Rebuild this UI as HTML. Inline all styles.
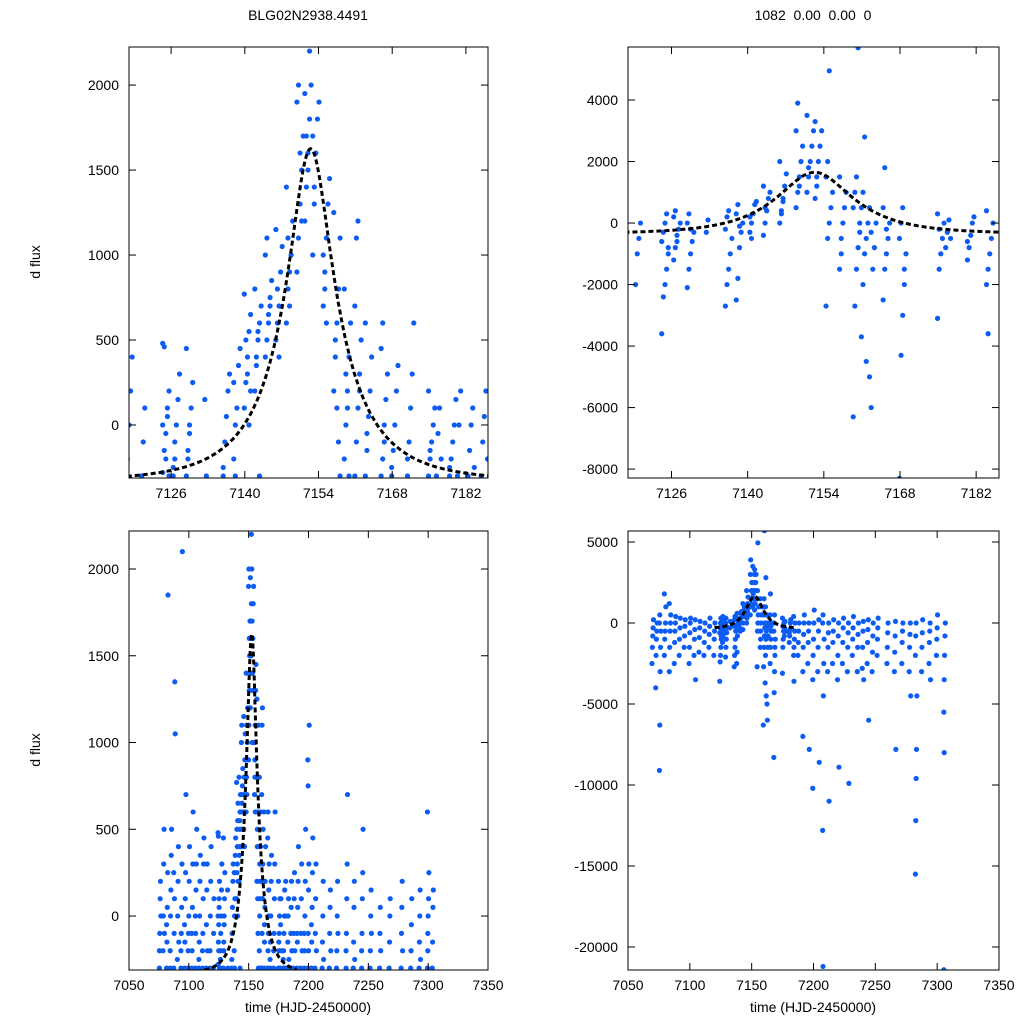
<!DOCTYPE html>
<html><head><meta charset="utf-8"><style>
body{margin:0;background:#fff}
svg{font-family:"Liberation Sans",sans-serif}
</style></head><body>
<svg id="c" width="1024" height="1024" viewBox="0 0 1024 1024">
<text x="308" y="20" font-size="14" text-anchor="middle">BLG02N2938.4491</text>
<text x="813" y="20" font-size="14" text-anchor="middle" xml:space="preserve">1082  0.00  0.00  0</text>
<text transform="translate(40,262) rotate(-90)" font-size="14" text-anchor="middle">d flux</text>
<text transform="translate(40,750) rotate(-90)" font-size="14" text-anchor="middle">d flux</text>
<text x="308" y="1012" font-size="14" text-anchor="middle">time (HJD-2450000)</text>
<text x="813" y="1012" font-size="14" text-anchor="middle">time (HJD-2450000)</text>
</svg>
<script>
// ---- data: left dataset (d flux), nights: time + values
const nightTA=[7076,7079,7082,7085,7088,7091,7094,7097,7100,7103,7106,7109,7112,7115,7118,7121,7125,7127,7129.5,7133,7136.5,7138.5,7140.5,7142.5,7144.5,7146.5,7148.5,7150.5,7152,7153.5,7155.5,7157.5,7159.5,7161.5,7163.5,7166.5,7168.5,7171.5,7175.5,7177,7179.5,7181,7183,7185.5,7188,7191,7194,7197,7200,7203,7206,7212,7218,7224,7232,7238,7245,7252,7260,7268,7278,7286,7293,7300,7304];
const nightA=[[-300,-100,100,200,0,-200],[-200,0,300,500,-100],[-300,-150,50,250,1850,-50],[-300,0,150,350,500,-200],[-300,-100,100,1350,1050,250],[-250,0,200,400,-150],[-300,-100,50,300,2100,-200],[-300,-150,100,250,700,-50],[-300,-100,0,200,400,-200],[-300,-200,50,300,600,-100],[-300,-100,150,300,500,0],[-300,-150,0,200,350,-250],[-300,-100,100,300,450,-200],[-300,-50,150,300,-200],[-300,-200,0,200,400],[-300,-100,100],
[-280,-150,-50,50,200,480,460,-200,100,-300,0],[-250,-100,0,150,300,-300,-200],[-300,-200,-50,100,250,450,-150,0],[150,-300],[-300,-100,50,200,300,-250],[-200,0,100,350,450,250,-300],[100,250,400,550,650,770,500,300,0,200],[200,400,500,600,700,800,350,550,-300],[400,500,650,700,850,1000,1100,600,750],[500,600,700,900,1050,1150,800,400],[600,800,900,1000,1200,1400,1100,700],[900,1100,1300,1500,1700,1900,2000,1600,1200],[1200,1400,1600,1800,2000,1950,1700,1500,2200],[1000,1300,1600,1800,1900,1700,1400],[700,900,1100,1300,1450,1000,800,600],[200,400,600,800,1100,1250,500,100,-100,-300],[-200,0,200,400,600,800,300,100,-300],[-300,-100,100,300,500,700,1100,1200,200],[-300,-150,50,200,400,600,-50],[-300,-200,0,150,300,450,600,-100],[-300,-150,0,200,350,-250],[-300,-100,100,300,600,-200],[-300,-200,-100,0,100,200,-150],[-300,-50,100,-200],[-300,-200,-100,0,150,-250],[-300,0,200],[-300,-150,0,100,-250],[-300,-100,50,200,-200],
[-300,-100,100,250,-200],[-300,-150,50,200,400,-100],[-300,-100,100,300,-200],[-300,-200,0,200,500,-100],[-300,-100,150,300,1100,900,750,-200],[-300,-150,50,250,450,-50],[-300,-100,100,300,-200],[-300,-150,0,200,-250],[-300,-100,50,150,-200],[-300,-200,0,200,-100],[-300,-100,100,300,700,-200],[-300,-150,50,200,-250],[-300,-100,100,250,500,-200],[-300,-200,0,150,-100],[-300,-100,50,-200],[-300,-150,0,100],[-300,-100,50,200,-200],[-300,-200,-50,100],[-300,-150,0,150,-250],[-300,-100,0,100,250,600,-200],[-300,-150,50,150]];
// ---- data: right dataset
const nightTB=[7070,7073,7076,7080,7084,7088,7092,7096,7100,7104,7108,7112,7116,7120,7124.8,7127,7129.5,7133,7136.5,7138.5,7141,7143.5,7146.5,7149.5,7151.5,7153,7155,7157.5,7160,7161.5,7163,7165.5,7168.5,7175.5,7177,7181,7184.5,7188,7192,7196,7200,7204,7208,7212,7216,7220,7224,7228,7232,7236,7240,7244,7248,7252,7260,7266,7272,7278,7283,7288,7294,7300,7306];
const nightB=[[-2500,-1500,-800,-300,200],[-4000,-2000,-1000,-500,0],[-9100,-6300,-3000,-1500,-500,0,500],[-2000,-1000,-500,0,1000,1800],[-3000,-1500,-500,0,500,1200],[-2500,-1200,-500,0,400],[-2000,-1000,-300,300],[-1500,-800,-200,200],[-2500,-1500,-600,0,300],[-2000,-1000,-400,200,-3500],[-1800,-900,-300,100],[-2000,-1200,-500,0],[-1500,-700,-200,300],[-2000,-1000,-500,0],
[-3600,-2400,-2000,-1500,-1000,-600,-300,0,300,-800],[-1200,-800,-400,-200,0,200,400,-600],[-2100,-1500,-1000,-600,-300,0,300,-200],[-300,100],[-2700,-2000,-1500,-1000,-500,-200,200,400],[-2500,-1800,-800,-300,0,300,600,-100],[-300,0,300,600,700,200,-500],[-400,0,400,800,1000,1200,500],[0,400,800,1200,1600,2000,300,700],[500,1000,1500,2000,2500,3000,3900,1200],[1000,1500,2000,2500,3000,3500,1800],[800,1500,2000,2500,3000,3300,1200],[-2700,-500,0,500,1000,1500,2000,4950],[-1500,-500,0,500,1000,1500,-1000],[-6300,-2700,-1500,-800,0,500,1000,1500,5700,-300],[-3700,-2000,-1000,-500,0,500,1000,2800,-4500],[-5000,-6000,-1500,-800,0,500,-300],[-2500,-1500,-1000,-500,0,500,1800,-200],[-8300,-4300,-3000,-2000,-1000,-500,0,500,-1500],[-3100,-1500,-1000,-500,0,300,-200],[-800,-300,100,-500],[-1200,-800,-400,0,200,-600],[-2000,-1500,-1000,-500,0,400,-3600],
[-2000,-1200,-500,0],[-3000,-1500,-700,0,500,-7000],[-2500,-1200,-500,0,-7800],[-3500,-2000,-1000,0,800,-10200],[-3000,-1500,-500,200,-8600],[-12800,-21200,-4500,-2500,-1000,0,500],[-3000,-1500,-600,0,-11000],[-2500,-1200,-500,200],[-3500,-2000,-800,0,-8900],[-2500,-1200,-300,300],[-3000,-1500,-600,0,-9900],[-2000,-1000,-300,400],[-3000,-1500,-700,0],[-2800,-1500,-500,100,-3500],[-2500,-1200,-400,200,-6000],[-3000,-1800,-800,0],[-2000,-1000,-300,300],[-2500,-1500,-600,0],[-3000,-1800,-800,100,-7800],[-2500,-1200,-500,0],[-3000,-1500,-700,0,-4500],[-15500,-12200,-9600,-7800,-4500,-2000,-800,0],[-3000,-1500,-600,200],[-2500,-1200,-500,0,-3500],[-2000,-1000,-300,500],[-5500,-3500,-2000,-800,0,-21400,-8000]];
// microlensing model params: t0, u0, tE, fs, base
const modelA=[7152.5,0.3,14.7,800,-330];
const modelB=[7152.3,0.6,12.9,2262,-350];
const ticksTopX=[7126,7140,7154,7168,7182];
const ticksBotX=[7050,7100,7150,7200,7250,7300,7350];
const ticksYA1=[0,500,1000,1500,2000];
const ticksYB1=[-8000,-6000,-4000,-2000,0,2000,4000];
const ticksYA2=[0,500,1000,1500,2000];
const ticksYB2=[-20000,-15000,-10000,-5000,0,5000];

const NS='http://www.w3.org/2000/svg';
const svg=document.getElementById('c');
function mk(tag,attrs,parent){const e=document.createElementNS(NS,tag);for(const k in attrs)e.setAttribute(k,attrs[k]);(parent||svg).appendChild(e);return e;}
function mag(m,t){const u=Math.sqrt(m[1]*m[1]+Math.pow((t-m[0])/m[2],2));return m[4]+m[3]*((u*u+2)/(u*Math.sqrt(u*u+4))-1);}
let pid=0;
function panel(name,px,py,pw,ph,xmin,xmax,ymin,ymax,xt,yt,nT,nV,model,mt0,mt1){
  const sx=v=>px+(v-xmin)/(xmax-xmin)*pw, sy=v=>py+(ymax-v)/(ymax-ymin)*ph;
  const g=mk('g',{});
  
  
  const cid='clip'+(pid++);
  const cp=mk('clipPath',{id:cid},g);mk('rect',{x:px,y:py,width:pw,height:ph},cp);
  const pts=mk('g',{'clip-path':'url(#'+cid+')',fill:'#0d5cf2'},g);
  
  
  nT.forEach((t,i)=>{nV[i].forEach((v,j)=>{
    const c=mk('circle',{cx:sx(t+((j%5)-2)*0.3),cy:sy(v),r:2.6},pts);
    
    
  });});
  let d='';for(let t=mt0;t<=mt1;t+=0.25){d+=(d?'L':'M')+sx(t).toFixed(1)+','+sy(mag(model,t)).toFixed(1);}
  const ln=mk('path',{d:d,fill:'none',stroke:'#000','stroke-width':3,'stroke-dasharray':'5,3','clip-path':'url(#'+cid+')'},g);
  
  
  const fr=mk('rect',{x:px,y:py,width:pw,height:ph,fill:'none',stroke:'#000','stroke-width':1},g);
  
  
  xt.forEach(v=>{const x=sx(v);
    mk('line',{x1:x,x2:x,y1:py+ph,y2:py+ph-7,stroke:'#000'},g);mk('line',{x1:x,x2:x,y1:py,y2:py+7,stroke:'#000'},g);
    const tx=mk('text',{x:x,y:py+ph+20,'font-size':14,'text-anchor':'middle'},g);tx.textContent=v;
    
    });
  yt.forEach(v=>{const y=sy(v);
    mk('line',{x1:px,x2:px+7,y1:y,y2:y,stroke:'#000'},g);mk('line',{x1:px+pw,x2:px+pw-7,y1:y,y2:y,stroke:'#000'},g);
    const tx=mk('text',{x:px-10,y:y+5,'font-size':14,'text-anchor':'end'},g);tx.textContent=v;
    
    });
}
panel('panel-top-left',129,47,359,431,7118,7186.2,-312,2224,ticksTopX,ticksYA1,nightTA,nightA,modelA,7110,7190);
panel('panel-top-right',628,47,371,431,7118,7186.2,-8290,5724,ticksTopX,ticksYB1,nightTB,nightB,modelB,7110,7190);
panel('panel-bottom-left',129,531,359,439,7050,7350,-311,2219,ticksBotX,ticksYA2,nightTA,nightA,modelA,7100,7190);
panel('panel-bottom-right',628,531,371,439,7050,7350,-21420,5680,ticksBotX,ticksYB2,nightTB,nightB,modelB,7120,7186);
</script>
</body></html>
